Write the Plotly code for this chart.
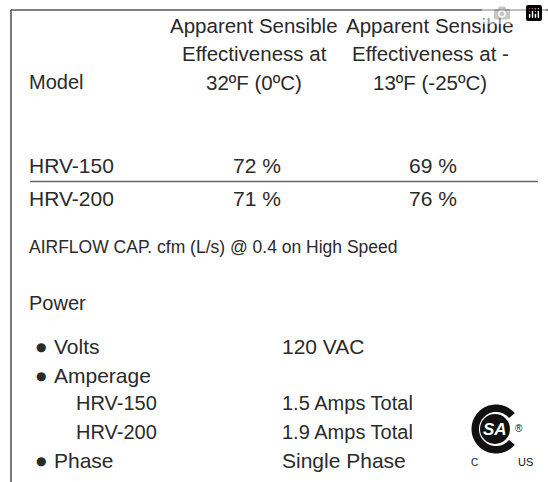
import numpy as np
import plotly.graph_objects as go

# ---------------- data ----------------
header_model = "Model"
header_col1 = ["Apparent Sensible", "Effectiveness at", "32ºF (0ºC)"]
header_col2 = ["Apparent Sensible", "Effectiveness at -", "13ºF (-25ºC)"]
models = ["HRV-150", "HRV-200"]
eff_32F = [72, 71]
eff_minus13F = [69, 76]
airflow_label = "AIRFLOW CAP. cfm (L/s) @ 0.4 on High Speed"
power_label = "Power"
volts_label = "Volts"
volts_value = "120 VAC"
amperage_label = "Amperage"
amps_total = [1.5, 1.9]
phase_label = "Phase"
phase_value = "Single Phase"

# ---------------- styling ----------------
W, H = 548, 482
FONT = "Liberation Sans, Arial, sans-serif"
TXT = "#2a2a2a"
LINE = "#555555"
PAD = 3  # annotation inner padding

ann = []


def add(x, y, text, size=20, anchor="left", color=TXT, family=FONT):
    if anchor == "left":
        x = x - PAD
    ann.append(dict(x=x, y=y, xref="x", yref="y", text=text, showarrow=False,
                    xanchor=anchor, yanchor="middle",
                    font=dict(family=family, size=size, color=color)))


# header
add(30, 82, header_model)
for i, (a, b) in enumerate(zip(header_col1, header_col2)):
    yy = 25 + i * 28.5
    add(254, yy, a, size=20.5, anchor="center")
    add(430, yy, b, size=20.5, anchor="center")

# table rows
row_y = [165, 198]
for m, e1, e2, yy in zip(models, eff_32F, eff_minus13F, row_y):
    add(30, yy, m, size=21)
    add(257, yy, f"{e1} %", size=21, anchor="center")
    add(433, yy, f"{e2} %", size=21, anchor="center")

# airflow
add(30, 247, airflow_label, size=17.5)

# power section
add(30, 303, power_label)
bullet_x = 41
BUL = dict(size=12, anchor="center", family="DejaVu Sans")
add(bullet_x, 347, "●", **BUL)
add(55, 346, volts_label, size=21)
add(283, 346, volts_value, size=21)
add(bullet_x, 376, "●", **BUL)
add(55, 375, amperage_label, size=21)
sub_y = [403, 432]
for m, a, yy in zip(models, amps_total, sub_y):
    add(77, yy, m, size=20)
    add(283, yy, f"{a} Amps Total", size=20)
add(bullet_x, 461, "●", **BUL)
add(55, 460, phase_label, size=21)
add(283, 460, phase_value, size=21)

# ---------------- shapes ----------------
shapes = [
    dict(type="line", x0=11, x1=W, y0=10, y1=10, xref="x", yref="y",
         line=dict(color=LINE, width=1.6)),
    dict(type="line", x0=11, x1=11, y0=10, y1=H, xref="x", yref="y",
         line=dict(color=LINE, width=1.6)),
    dict(type="line", x0=30, x1=538, y0=181.5, y1=181.5, xref="x", yref="y",
         line=dict(color="#666666", width=1.5)),
]

# CSA-style logo: thick "C" ring plus a black disc with white letters
cx, cy = 496, 429
r_out, r_in = 24.5, 17
gap = np.deg2rad(40)
th = np.linspace(gap, 2 * np.pi - gap, 80)
outer = [(cx + r_out * np.cos(t), cy - r_out * np.sin(t)) for t in th]
inner = [(cx + r_in * np.cos(t), cy - r_in * np.sin(t)) for t in th[::-1]]
pts = outer + inner
path = "M " + " L ".join(f"{x:.2f},{y:.2f}" for x, y in pts) + " Z"
shapes.append(dict(type="path", path=path, xref="x", yref="y",
                   fillcolor="#111111", line=dict(width=0)))
disc_r = 15
dcx = cx - 1
shapes.append(dict(type="circle", x0=dcx - disc_r, x1=dcx + disc_r,
                   y0=cy - disc_r, y1=cy + disc_r, xref="x", yref="y",
                   fillcolor="#111111", line=dict(width=0)))
add(dcx, cy + 0.5, "<b><i>SA</i></b>", size=17, anchor="center",
    color="white", family="Liberation Sans, Arial")
add(519, 428, "®", size=10, anchor="center", color="#111111")
add(474, 462, "C", size=10, anchor="center", color="#111111")
add(525, 462, "US", size=11, anchor="center", color="#111111")

fig = go.Figure()
fig.update_layout(
    width=W, height=H,
    margin=dict(l=0, r=0, t=0, b=0),
    paper_bgcolor="white", plot_bgcolor="white",
    xaxis=dict(range=[0, W], visible=False, fixedrange=True),
    yaxis=dict(range=[H, 0], visible=False, fixedrange=True),
    annotations=ann, shapes=shapes, showlegend=False,
)
# remove the default page margin so the figure sits at the window's corner
fig.write_html(
    "out.html",
    post_script="document.documentElement.style.margin='0';"
                "document.body.style.margin='0';"
                "document.body.style.overflow='hidden';",
)
